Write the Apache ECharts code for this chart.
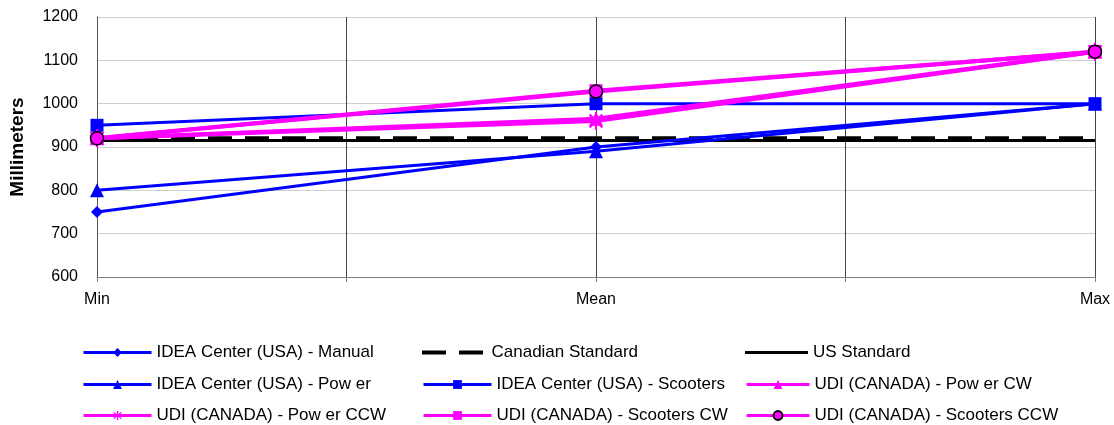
<!DOCTYPE html>
<html>
<head>
<meta charset="utf-8">
<script src="https://cdn.jsdelivr.net/npm/echarts@6/dist/echarts.min.js"></script>
<style>
  html, body { margin: 0; padding: 0; background: #fff; }
  #chart { width: 1114px; height: 425px; }
</style>
</head>
<body>
<div id="chart"></div>
<script>
// Category labels along the x axis
const categories = ['Min', 'Mean', 'Max'];

// Measurements in millimeters (Min, Mean, Max)
const ideaManual      = [750, 900, 1000];
const ideaPower       = [800, 890, 1000];
const ideaScooters    = [950, 1000, 1000];
const canadianStd     = [920, 920, 920];
const usStd           = [915, 915, 915];
const udiPowerCW      = [920, 965, 1120];
const udiPowerCCW     = [920, 960, 1120];
const udiScootersCW   = [920, 1030, 1120];
const udiScootersCCW  = [920, 1028, 1120];

// y axis range
const yTicks = [600, 700, 800, 900, 1000, 1100, 1200];

const BLUE = '#0000FF';
const PINK = '#FF00FF';
const FONT = '"Liberation Sans", Arial, sans-serif';

// six-armed asterisk marker
const ASTERISK = 'path://M-1.2,-10 L1.2,-10 L1.2,10 L-1.2,10 Z ' +
  'M-6.22,-7.92 L7.92,6.22 L6.22,7.92 L-7.92,-6.22 Z ' +
  'M-6.22,7.92 L7.92,-6.22 L6.22,-7.92 L-7.92,6.22 Z';

// legend icons for the reference lines (no markers)
const DASH_ICON = 'path://M0,0 H24 V4 H0 Z M37,0 H61 V4 H37 Z';
const SOLID_ICON = 'path://M0,0 H64 V3 H0 Z';

const toPoints = vals => vals.map((v, i) => [i, v]);

function lineSeries(name, vals, color, width, symbol, size, extra) {
  return Object.assign({
    name: name,
    type: 'line',
    data: toPoints(vals),
    symbol: symbol,
    symbolSize: size,
    symbolKeepAspect: true,
    showSymbol: symbol !== 'none',
    lineStyle: { color: color, width: width },
    itemStyle: { color: color },
    emphasis: { disabled: true },
    animation: false
  }, extra || {});
}

const series = [
  lineSeries('Canadian Standard', canadianStd, '#000', 4, 'none', 0, {
    lineStyle: { color: '#000', width: 4, type: [24, 13] }
  }),
  lineSeries('US Standard', usStd, '#000', 3, 'none', 0),
  lineSeries('IDEA Center (USA) - Manual', ideaManual, BLUE, 3, 'diamond', 12),
  lineSeries('IDEA Center (USA) - Pow er', ideaPower, BLUE, 3, 'triangle', 14),
  lineSeries('IDEA Center (USA) - Scooters', ideaScooters, BLUE, 3, 'rect', 13),
  lineSeries('UDI (CANADA) - Pow er CW', udiPowerCW, PINK, 4, 'triangle', 14),
  lineSeries('UDI (CANADA) - Pow er CCW', udiPowerCCW, PINK, 4, ASTERISK, 18),
  lineSeries('UDI (CANADA) - Scooters CW', udiScootersCW, PINK, 4, 'rect', 13),
  lineSeries('UDI (CANADA) - Scooters CCW', udiScootersCCW, PINK, 4, 'circle', 13, {
    itemStyle: { color: PINK, borderColor: '#000', borderWidth: 1.5 }
  })
];

// Legend laid out as a 3x3 table (rows, then columns)
const legendRows = [
  ['IDEA Center (USA) - Manual', 'Canadian Standard', 'US Standard'],
  ['IDEA Center (USA) - Pow er', 'IDEA Center (USA) - Scooters', 'UDI (CANADA) - Pow er CW'],
  ['UDI (CANADA) - Pow er CCW', 'UDI (CANADA) - Scooters CW', 'UDI (CANADA) - Scooters CCW']
];
const colLeft = [82, 422, 745];
const colIconWidth = [68, 68, 63];
const rowTop = [344, 376, 407];
const plainIcons = { 'Canadian Standard': [DASH_ICON, 4], 'US Standard': [SOLID_ICON, 3] };

const legends = [];
legendRows.forEach((row, r) => {
  row.forEach((name, c) => {
    const plain = plainIcons[name];
    const item = plain
      ? { name: name, icon: plain[0], itemStyle: { color: '#000', borderWidth: 0 } }
      : name;
    legends.push({
      data: [item],
      orient: 'horizontal',
      left: colLeft[c],
      top: rowTop[r],
      itemWidth: colIconWidth[c],
      itemHeight: plain ? plain[1] : 11,
      lineStyle: { width: 3 },
      padding: 0,
      selectedMode: false,
      textStyle: { fontFamily: FONT, fontSize: 17, color: '#000', lineHeight: 12 }
    });
  });
});

const chart = echarts.init(document.getElementById('chart'), null, { renderer: 'canvas' });
chart.setOption({
  backgroundColor: '#fff',
  animation: false,
  grid: { left: 97, right: 19, top: 17, bottom: 148, containLabel: false },
  legend: legends,
  xAxis: {
    type: 'value',
    min: 0,
    max: categories.length - 1,
    interval: 0.5,
    axisLine: { show: true, lineStyle: { color: '#808080', width: 1 } },
    axisTick: { show: true, length: 5, lineStyle: { color: '#808080' } },
    axisLabel: {
      customValues: [0, 1, 2],
      formatter: v => categories[Math.round(v)] || '',
      fontFamily: FONT, fontSize: 16, color: '#000', margin: 15
    },
    splitLine: { show: true, lineStyle: { color: '#444', width: 1 } }
  },
  yAxis: {
    type: 'value',
    name: 'Millimeters',
    nameLocation: 'middle',
    nameGap: 70,
    nameTextStyle: { fontFamily: FONT, fontSize: 19, fontWeight: 'bold', color: '#000' },
    min: yTicks[0],
    max: yTicks[yTicks.length - 1],
    interval: 100,
    axisLine: { show: true, lineStyle: { color: '#555', width: 1 } },
    axisTick: { show: false },
    axisLabel: {
      formatter: v => String(v),
      fontFamily: FONT, fontSize: 16, color: '#000', margin: 19
    },
    splitLine: { show: true, lineStyle: { color: '#cfcfcf', width: 1 } }
  },
  series: series
});
</script>
</body>
</html>
